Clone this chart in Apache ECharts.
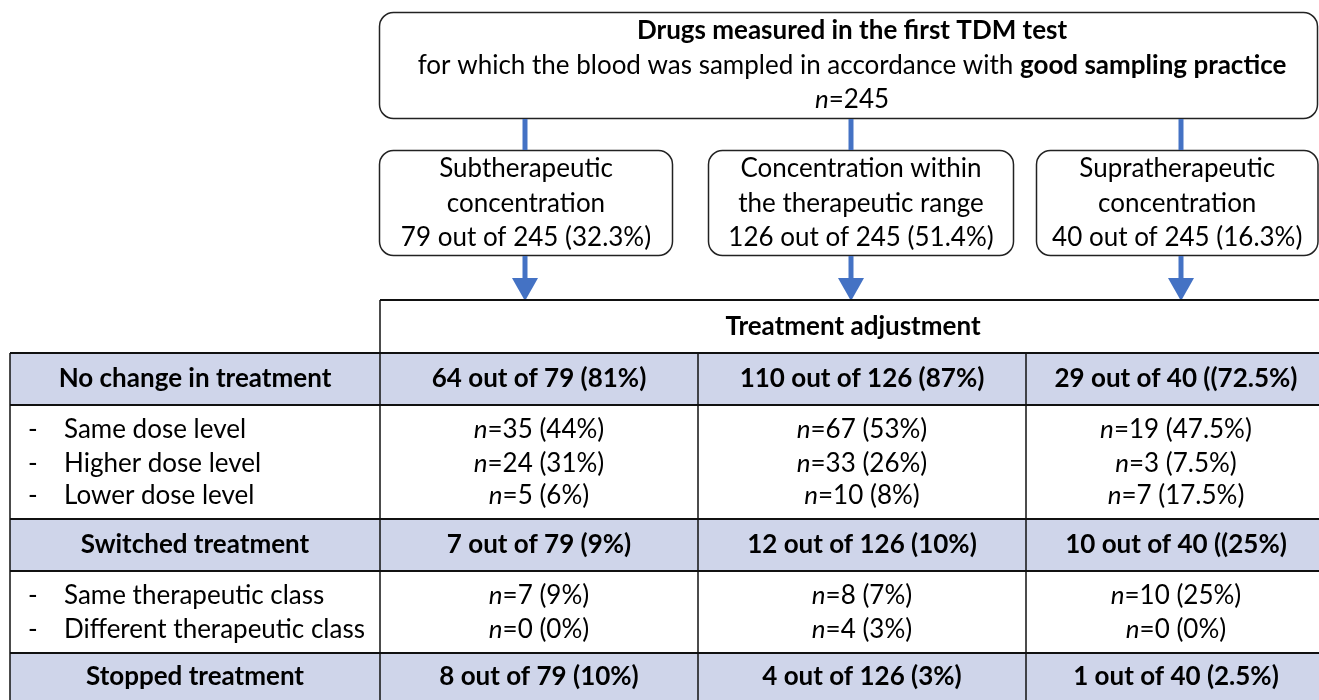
<!DOCTYPE html>
<html><head><meta charset="utf-8">
<script src="https://cdn.jsdelivr.net/npm/echarts@6/dist/echarts.min.js"></script>
<style>html,body{margin:0;padding:0;background:#fff}#c{width:1319px;height:700px}</style>
</head><body><div id="c"></div>
<script>
// ---- data ----
const totalDrugs = 245;
const topTitle = 'Drugs measured in the first TDM test';
const topSubtitlePlain = 'for which the blood was sampled in accordance with ';
const topSubtitleBold = 'good sampling practice';
const groupNames = [['Subtherapeutic', 'concentration'], ['Concentration within', 'the therapeutic range'], ['Supratherapeutic', 'concentration']];
const groupCounts = [79, 126, 40];
const groupPcts = ['32.3%', '51.4%', '16.3%'];
const tableHeader = 'Treatment adjustment';
const noChangeLabel = 'No change in treatment';
const noChangeCounts = [64, 110, 29];
const noChangePcts = ['(81%)', '(87%)', '((72.5%)'];
const doseLabels = ['Same dose level', 'Higher dose level', 'Lower dose level'];
const doseCounts = [[35, 67, 19], [24, 33, 3], [5, 10, 7]];
const dosePcts = [['44%', '53%', '47.5%'], ['31%', '26%', '7.5%'], ['6%', '8%', '17.5%']];
const switchedLabel = 'Switched treatment';
const switchedCounts = [7, 12, 10];
const switchedPcts = ['(9%)', '(10%)', '((25%)'];
const classLabels = ['Same therapeutic class', 'Different therapeutic class'];
const classCounts = [[7, 8, 10], [0, 4, 0]];
const classPcts = [['9%', '7%', '25%'], ['0%', '3%', '0%']];
const stoppedLabel = 'Stopped treatment';
const stoppedCounts = [8, 4, 1];
const stoppedPcts = ['(10%)', '(3%)', '(2.5%)'];

// ---- layout ----
const FONT = 'Lato, "Open Sans", sans-serif';
const FS = 26;
const BLUE = '#4472C4';
const FILL = '#CFD5EA';
const els = [];
const rich = {
  b: {fontFamily: FONT, fontSize: FS, fontWeight: 'bold', fill: '#000'},
  i: {fontFamily: FONT, fontSize: FS, fontStyle: 'italic', fill: '#000'},
  r: {fontFamily: FONT, fontSize: FS, fill: '#000'}
};
function text(x, y, str, opts) {
  opts = opts || {};
  els.push({type: 'text', x: x, y: y, z: 10, style: Object.assign({
    text: str, fontFamily: FONT, fontSize: FS, fill: '#000',
    align: opts.align || 'center', verticalAlign: 'middle', rich: rich
  }, opts.style || {})});
}
function rect(x, y, w, h, r, stroke, fill, lw) {
  els.push({type: 'rect', shape: {x: x, y: y, width: w, height: h, r: r || 0},
    style: {fill: fill || 'none', stroke: stroke || 'none', lineWidth: lw || 1.5}});
}
function line(x1, y1, x2, y2, color, lw, z) {
  els.push({type: 'line', z: z || 5, shape: {x1: x1, y1: y1, x2: x2, y2: y2},
    style: {stroke: color, lineWidth: lw}});
}
function arrowHead(x, yTop, yBot, w) {
  els.push({type: 'polygon', shape: {points: [[x - w / 2, yTop], [x + w / 2, yTop], [x, yBot]]}, style: {fill: BLUE}});
}

// top box
rect(379.5, 12.5, 938, 106, 14, '#222', '#fff', 1.5);
text(852, 31, '{b|' + topTitle + '}');
text(852, 66, '{r|' + topSubtitlePlain + '}{b|' + topSubtitleBold + '}');
text(852, 100, '{i|n}{r|=' + totalDrugs + '}');

// connectors, group boxes, arrows
const arrowX = [525, 851, 1181];
const boxX = [[379.5, 672.5], [708.5, 1013.5], [1036.5, 1318]];
for (let k = 0; k < 3; k++) {
  line(arrowX[k], 119, arrowX[k], 150, BLUE, 5, 1);
  rect(boxX[k][0], 150.5, boxX[k][1] - boxX[k][0], 105, 14, '#222', '#fff', 1.5);
  const cx = (boxX[k][0] + boxX[k][1]) / 2;
  text(cx, 169, groupNames[k][0]);
  text(cx, 204, groupNames[k][1]);
  text(cx, 238, groupCounts[k] + ' out of ' + totalDrugs + ' (' + groupPcts[k] + ')');
  line(arrowX[k], 256, arrowX[k], 282, BLUE, 5, 1);
  arrowHead(arrowX[k], 278, 301, 26);
}

// table
const colX = [10, 380, 698, 1026, 1330];
const colC = [539, 862, 1176];
const R = {hdr: [300, 353], nc: [353, 405], s1: [405, 519], sw: [519, 571], s2: [571, 653], st: [653, 712]};
[R.nc, R.sw, R.st].forEach(function (r) { rect(colX[0], r[0], colX[4] - colX[0], r[1] - r[0], 0, 'none', FILL); });
// header
text(853, 327, '{b|' + tableHeader + '}');
// summary rows
function summaryRow(r, label, counts, pcts) {
  const cy = (r[0] + r[1]) / 2;
  text(195, cy, '{b|' + label + '}');
  for (let k = 0; k < 3; k++) text(colC[k], cy, '{b|' + counts[k] + ' out of ' + groupCounts[k] + ' ' + pcts[k] + '}');
}
summaryRow(R.nc, noChangeLabel, noChangeCounts, noChangePcts);
summaryRow(R.sw, switchedLabel, switchedCounts, switchedPcts);
summaryRow([653, 701], stoppedLabel, stoppedCounts, stoppedPcts);
function subRows(ys, labels, counts, pcts) {
  for (let j = 0; j < labels.length; j++) {
    text(28, ys[j], '-', {align: 'left'});
    text(64, ys[j], labels[j], {align: 'left'});
    for (let k = 0; k < 3; k++) text(colC[k], ys[j], '{i|n}{r|=' + counts[j][k] + ' (' + pcts[j][k] + ')}');
  }
}
subRows([430, 464, 496], doseLabels, doseCounts, dosePcts);
subRows([596, 630], classLabels, classCounts, classPcts);

// grid lines
const K = '#111';
line(380, 300, 1330, 300, K, 2);
[353, 405, 519, 571, 653].forEach(function (y) { line(10, y, 1330, y, K, 2); });
line(380, 300, 380, 712, K, 1.5);
line(10, 353, 10, 712, K, 1.5);
line(698, 353, 698, 712, K, 1.5);
line(1026, 353, 1026, 712, K, 1.5);

const chart = echarts.init(document.getElementById('c'), null, {renderer: 'canvas'});
chart.setOption({animation: false, backgroundColor: '#fff', graphic: {elements: els}});
</script></body></html>
